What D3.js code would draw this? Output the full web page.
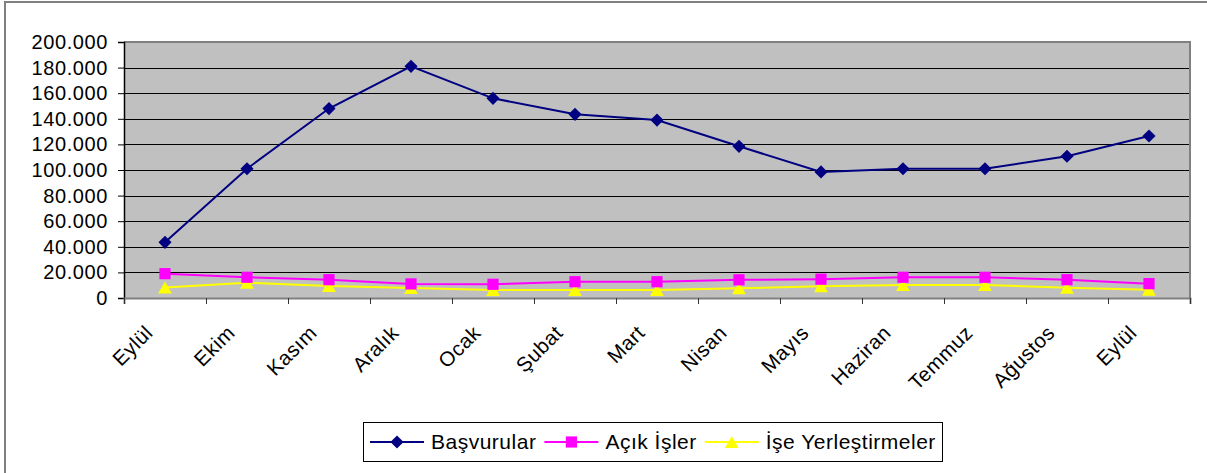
<!DOCTYPE html>
<html><head><meta charset="utf-8">
<script src="https://cdn.jsdelivr.net/npm/d3@7"></script>
<style>
html,body{margin:0;padding:0;background:#fff;}
svg{display:block;font-family:"Liberation Sans",Arial,sans-serif;}
</style></head>
<body>
<svg id="chart" width="1207" height="473"></svg>
<script>
const categories = ["Eylül","Ekim","Kasım","Aralık","Ocak","Şubat","Mart","Nisan","Mayıs","Haziran","Temmuz","Ağustos","Eylül"];
const basvurular = [43500,101000,148000,181000,156000,143500,139000,118500,98500,101000,101000,110700,126600];
const acikIsler = [19000,16200,14300,11000,10700,12700,12700,14200,14700,16200,16200,14300,11200];
const iseYerlestirmeler = [8200,12000,9400,7800,6300,6300,6200,7600,9100,10200,10200,8100,6400];
const yTicks = [0,20000,40000,60000,80000,100000,120000,140000,160000,180000,200000];
const seriesNames = ["Başvurular","Açık İşler","İşe Yerleştirmeler"];

const svg = d3.select("#chart");
const m = {left:124, right:1190, top:42, bottom:298};

// outer chart border
svg.append("rect").attr("x",5).attr("y",2).attr("width",1215).attr("height",490)
  .attr("fill","#fff").attr("stroke","#808080").attr("stroke-width",2);

const idx = categories.map((d,i)=>i);
const x = d3.scaleBand().domain(idx).range([m.left,m.right]);
const y = d3.scaleLinear().domain([0,200000]).range([m.bottom,m.top]);

// plot area
svg.append("rect").attr("x",m.left).attr("y",m.top).attr("width",m.right-m.left).attr("height",m.bottom-m.top)
  .attr("fill","#C0C0C0");
// gridlines
svg.append("g").selectAll("line").data(yTicks.filter(t=>t>0 && t<200000)).join("line")
  .attr("x1",m.left).attr("x2",m.right).attr("y1",d=>Math.round(y(d))+0.5).attr("y2",d=>Math.round(y(d))+0.5)
  .attr("stroke","#000").attr("stroke-width",1);
// plot border top/right
svg.append("path").attr("d",`M${m.left},${m.top}H${m.right}V${m.bottom}`)
  .attr("fill","none").attr("stroke","#808080").attr("stroke-width",2);

const loc = d3.formatLocale({decimal:",",thousands:".",grouping:[3],currency:["",""]});
const fmt = loc.format(",");

// y axis
const yAxis = d3.axisLeft(y).tickValues(yTicks).tickFormat(fmt).tickSize(6).tickPadding(10);
const gy = svg.append("g").attr("transform",`translate(${m.left},0)`).call(yAxis);
gy.select(".domain").attr("stroke","#000").attr("stroke-width",1.5);
gy.selectAll(".tick line").attr("stroke","#000");
gy.selectAll(".tick text").attr("font-size",20).attr("fill","#000")
  .attr("font-family","'Liberation Sans',Arial,sans-serif").style("letter-spacing","0.6px");

// x axis
const xb = d3.scaleLinear().domain([0,categories.length]).range([m.left,m.right]);
const xAxis = d3.axisBottom(xb).tickValues(d3.range(0,categories.length+1)).tickFormat("").tickSize(6);
const gx = svg.append("g").attr("transform",`translate(0,${m.bottom})`).call(xAxis);
gx.select(".domain").attr("stroke","#808080").attr("stroke-width",2);
gx.selectAll(".tick line").attr("stroke","#333");

svg.append("g").selectAll("text").data(idx).join("text")
  .attr("transform",d=>`translate(${x(d)+x.bandwidth()/2-16},${m.bottom+31}) rotate(-45)`)
  .attr("text-anchor","end").attr("dy","0.35em")
  .attr("font-size",20.5).attr("fill","#000").style("letter-spacing","0.5px")
  .text(d=>categories[d]);

// series
const cx = i => x(i)+x.bandwidth()/2;
const line = d3.line().x((d,i)=>cx(i)).y(d=>y(d));
const series = [
  {name:seriesNames[0], data:basvurular, color:"#000080", sym:d3.symbolDiamond2, size:110, dy:0},
  {name:seriesNames[1], data:acikIsler, color:"#FF00FF", sym:d3.symbolSquare2, size:160, dy:0},
  {name:seriesNames[2], data:iseYerlestirmeler, color:"#FFFF00", sym:d3.symbolTriangle2, size:137, dy:2}
];
[series[2],series[1],series[0]].forEach(s=>{
  svg.append("path").datum(s.data).attr("d",line).attr("fill","none").attr("stroke",s.color).attr("stroke-width",2);
});
[series[2],series[1],series[0]].forEach(s=>{
  const sym = d3.symbol().type(s.sym).size(s.size);
  svg.append("g").selectAll("path").data(s.data).join("path")
    .attr("transform",(d,i)=>`translate(${cx(i)},${y(d)+s.dy})`).attr("d",sym).attr("fill",s.color);
});

// legend
const lg = svg.append("g");
lg.append("rect").attr("x",363.5).attr("y",422.5).attr("width",579).attr("height",39)
  .attr("fill","#fff").attr("stroke","#000").attr("stroke-width",1);
let lx = 370;
series.forEach(s=>{
  const ly = 442;
  lg.append("line").attr("x1",lx).attr("x2",lx+54).attr("y1",ly).attr("y2",ly).attr("stroke",s.color).attr("stroke-width",2);
  lg.append("path").attr("transform",`translate(${lx+27},${ly+s.dy})`).attr("d",d3.symbol().type(s.sym).size(s.size)()).attr("fill",s.color);
  const t = lg.append("text").attr("x",lx+61).attr("y",ly).attr("dy","0.35em").attr("font-size",21)
    .style("letter-spacing","0.5px").attr("fill","#000").text(s.name);
  lx += 61 + t.node().getComputedTextLength() + 8;
});
</script>
</body></html>
